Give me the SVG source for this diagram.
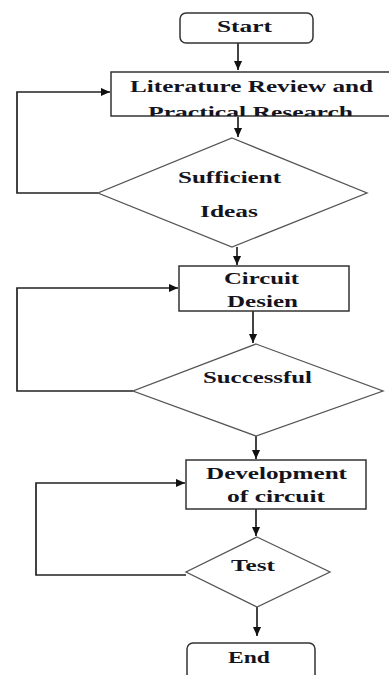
<svg xmlns="http://www.w3.org/2000/svg" width="389" height="675" viewBox="0 0 389 675">
<style>
.box{fill:#fff;stroke:#333;stroke-width:1.5}
.dia{fill:#fff;stroke:#555;stroke-width:1.3}
.ln{fill:none;stroke:#222;stroke-width:1.7}
.t{font-family:"Liberation Serif","Times New Roman",serif;font-weight:bold;font-size:16.5px;fill:#141420;text-anchor:start}
</style>
<defs>
<marker id="ahs" viewBox="0 0 10 10" refX="10" refY="5" markerWidth="9" markerHeight="9" orient="auto" markerUnits="userSpaceOnUse">
<path d="M0,0.5 L10,5 L0,9.5 z" fill="#111"/>
</marker>
<clipPath id="litclip"><rect x="111" y="72" width="280" height="44"/></clipPath>
</defs>
<g id="connectors">
<path class="ln" d="M238,43 V70" marker-end="url(#ahs)"/>
<path class="ln" d="M238,117 V137" marker-end="url(#ahs)"/>
<path class="ln" d="M98,193 H17 V92 H110" marker-end="url(#ahs)"/>
<path class="ln" d="M237,247 V265" marker-end="url(#ahs)"/>
<path class="ln" d="M133,391 H17 V288 H178" marker-end="url(#ahs)"/>
<path class="ln" d="M253,311 V343" marker-end="url(#ahs)"/>
<path class="ln" d="M256,436 V459" marker-end="url(#ahs)"/>
<path class="ln" d="M256,509 V536" marker-end="url(#ahs)"/>
<path class="ln" d="M186,575 H36 V483 H185" marker-end="url(#ahs)"/>
<path class="ln" d="M257,607 V636" marker-end="url(#ahs)"/>
</g>
<g id="start">
<rect class="box" x="180" y="13" width="133" height="30" rx="6"/>
<text class="t" x="217" y="32" textLength="55" lengthAdjust="spacingAndGlyphs">Start</text>
</g>
<g id="literature">
<rect class="box" x="111" y="72" width="285" height="44"/>
<g clip-path="url(#litclip)">
<text class="t" x="130" y="92" textLength="243" lengthAdjust="spacingAndGlyphs">Literature Review and</text>
<text class="t" x="148" y="118" textLength="205" lengthAdjust="spacingAndGlyphs">Practical Research</text>
</g>
</g>
<g id="sufficient">
<polygon class="dia" points="232,138 367,193 232,247 98,193"/>
<text class="t" x="178" y="183" textLength="103" lengthAdjust="spacingAndGlyphs">Sufficient</text>
<text class="t" x="200" y="217" textLength="58" lengthAdjust="spacingAndGlyphs">Ideas</text>
</g>
<g id="circuit-design">
<rect class="box" x="179" y="266" width="170" height="45"/>
<text class="t" x="224" y="284" textLength="75" lengthAdjust="spacingAndGlyphs">Circuit</text>
<text class="t" x="227" y="307" textLength="71" lengthAdjust="spacingAndGlyphs">Desien</text>
</g>
<g id="successful">
<polygon class="dia" points="256,344 383,391 256,436 133,391"/>
<text class="t" x="203" y="383" textLength="109" lengthAdjust="spacingAndGlyphs">Successful</text>
</g>
<g id="development">
<rect class="box" x="186" y="460" width="180" height="49"/>
<text class="t" x="206" y="479" textLength="141" lengthAdjust="spacingAndGlyphs">Development</text>
<text class="t" x="227" y="502" textLength="98" lengthAdjust="spacingAndGlyphs">of circuit</text>
</g>
<g id="test">
<polygon class="dia" points="257,537 330,572 257,607 186,572"/>
<text class="t" x="231" y="571" textLength="44" lengthAdjust="spacingAndGlyphs">Test</text>
</g>
<g id="end">
<rect class="box" x="187" y="643" width="128" height="45" rx="6"/>
<text class="t" x="228" y="663" textLength="42" lengthAdjust="spacingAndGlyphs">End</text>
</g>
</svg>
